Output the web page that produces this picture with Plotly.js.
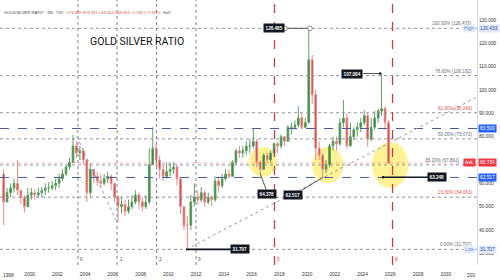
<!DOCTYPE html>
<html><head><meta charset="utf-8">
<script src="https://cdn.plot.ly/plotly-3.0.1.min.js"></script>
<style>html,body{margin:0;padding:0;background:#fff;}#chart{width:500px;height:280px;}</style>
</head><body><div id="chart"></div>
<script>
// Quarterly candles (open = previous close)
const startYear = 1998;
const firstOpen = 64;
const closes = [
  52,56,58,60,  57,54,50,55,  56,55,56,57,  58,58,59,60,
  62,64,67,69,  76,73,74,70,  56,66,63,61,  60,62,63,60,
  54,50,51,48,  50,52,55,52,  50,52,68,75,  70,66,63,65,
  66,67,62,50,  42,42,52,54,  53,56,52,54,  53,61,59,62,
  64,63,69,74,  73,74,76,76,  78,69,66,72,  70,73,77,76,
  80,78,84,84,  85,88,84,86,  113,98,75,72, 66,68,76,78,
  77,86,88,76,  80,83,84,86,  89,79,84,88,  91,92,86,68.66
];
const highs = [
  66,58,60,62,  70,57,55,58,  58,57.5,58,58.5, 60,60.5,61,62,
  64,66,68,71,  80.7,78,76,75, 70,68,66,65,  64,64,65,64,
  59,55,54,53,  53,55,57,56,  54,55,75,84,  78,72,68,69,
  69,69,68,62,  50,46,55,60,  57,58.4,57,56, 55,63,63,64,
  66,66,70,75,  76,76,78,79,  83.7,79,70,73, 73,74,77.5,78,
  81,80,85,86,  87,93,90,88,  126.4,115,100,78, 73,70,77,80,
  80,88,95.7,90, 86,84,86,88, 91.4,90,88,91, 92,107.1,93,87
];
const lows = [
  42,52,54,56,  55,51,47.5,50, 53,53,54,54,  55,56,57,57,
  58,61,63,66,  70,71,70,68,  52,54,60,59,  58,59,60,57,
  52,43.5,47,46, 47,49,51,49, 48,49,51,68,  67,62,61,62,
  63,64,59,47,  40,31.7,40,50, 51,52,50,51,  50,52,56,58,
  61,62,63,68,  71,71,72,73,  75,67,64.4,66, 68.6,69,72,73,
  75,76,78,81,  83,84,83,84,  86,94,70,70,  62.5,64.5,67,74,
  74,76,84,75,  76,78.5,80,82, 85,75.6,78,83, 86,89,83,68.66
];
// Fibonacci retracement levels
const fibPct = ['100.00%','78.60%','61.80%','50.00%','38.20%','23.60%','0.00%'];
const fibVal = [126.433,106.162,90.248,79.070,67.892,54.063,31.707];
const fibCol = ['#6b6e78','#6b6e78','#d9534f','#6b6e78','#6b6e78','#d9534f','#6b6e78'];
// Fibonacci time zones
const tzLabels = ['0','1','2','3','5','8'];
const tzYears = [2003.48,2006.30,2009.14,2011.99,2017.65,2026.16];
// Axis ticks (70 is hidden under the Ask tag in the reference)
const yTicks = [30,40,50,60,80,90,100,110,120,130];
const xYears = [2000,2002,2004,2006,2008,2010,2012,2014,2016,2018,2020,2022,2024,2026,2028,2030];

function yr(d){const y=Math.floor(d);const a=Date.UTC(y,0,1),b=Date.UTC(y+1,0,1);
  return new Date(a+(d-y)*(b-a)).toISOString().slice(0,19).replace('T',' ');}
const pad=n=>(n<10?'0':'')+n;
const dates=closes.map((c,i)=>`${startYear+Math.floor(i/4)}-${pad(3*(i%4)+2)}-15`);
const opens=closes.map((c,i)=>i===0?firstOpen:closes[i-1]);

const FONT='Liberation Sans, Arial, sans-serif';
const trace={type:'candlestick',x:dates,open:opens,high:highs,low:lows,close:closes,
  increasing:{line:{color:'#5e9f62',width:1},fillcolor:'#2e7d32'},
  decreasing:{line:{color:'#e88a8a',width:1},fillcolor:'#d32f2f'},
  whiskerwidth:0,hoverinfo:'none',showlegend:false};

const shapes=[], ann=[];
// yellow circles
[[2015.81,2017.83,62.7,75.6],[2020.37,2022.61,60.1,75.6],[2024.69,2027.29,58.0,77.7]].forEach(c=>{
  shapes.push({type:'circle',xref:'x',yref:'y',x0:yr(c[0]),x1:yr(c[1]),y0:c[2],y1:c[3],
    fillcolor:'rgba(255,232,60,0.55)',line:{width:0},layer:'below'});
});
// fib retracement lines + labels
fibVal.forEach((v,i)=>{
  shapes.push({type:'line',xref:'paper',yref:'y',x0:0,x1:1,y0:v,y1:v,line:{color:'#8f929b',width:1,dash:'dot'}});
  const right = (i===4) ? 461 : 474;
  ann.push({xref:'paper',yref:'y',x:right/477,y:v,xanchor:'right',yanchor:'bottom',yshift:0,showarrow:false,
    text:`${fibPct[i]} (${v.toFixed(3)})`,font:{size:4.6,color:fibCol[i],family:FONT}});
});
// blue dashed levels
[83.5,62.517].forEach(v=>shapes.push({type:'line',xref:'paper',yref:'y',x0:0,x1:1,y0:v,y1:v,
  line:{color:'#4a5d9a',width:1,dash:'dash'}}));
// current price line
shapes.push({type:'line',xref:'paper',yref:'y',x0:0,x1:1,y0:68.734,y1:68.734,line:{color:'rgba(242,54,69,0.35)',width:1,dash:'dot'}});
// fib time zones
tzYears.forEach((t,i)=>{
  const red=i>=4;
  shapes.push({type:'line',xref:'x',yref:'paper',x0:yr(t),x1:yr(t),y0:0,y1:1,
    line:{color:red?'#b8434a':'#7d8089',width:red?1.3:1,dash:red?'dash':'dot'}});
  ann.push({xref:'x',yref:'paper',x:yr(t),y:0,xanchor:'left',yanchor:'bottom',xshift:0.5,yshift:1,showarrow:false,
    text:tzLabels[i],font:{size:4.6,color:red?'#c0392b':'#444',family:FONT}});
});
// trend lines
shapes.push({type:'line',xref:'x',yref:'y',x0:yr(2011.3),y0:31.707,x1:yr(2032.25),y1:97,line:{color:'#9aa0a8',width:1,dash:'dot'}});
shapes.push({type:'line',xref:'x',yref:'y',x0:yr(2003.4),y0:80,x1:yr(2006.3),y1:43.3,line:{color:'#9aa0a8',width:1,dash:'dot'}});
// callout connectors
const blk='#131722';
shapes.push({type:'line',xref:'x',yref:'y',x0:yr(2018.41),y0:126.43,x1:yr(2020.21),y1:126.43,line:{color:'#555',width:1}});
shapes.push({type:'line',xref:'x',yref:'y',x0:yr(2024.03),y0:107.08,x1:yr(2025.27),y1:107.08,line:{color:'#555',width:1}});
shapes.push({type:'line',xref:'x',yref:'y',x0:yr(2016.6),y0:64.38,x1:yr(2017.04),y1:57.5,line:{color:'#555',width:1}});
shapes.push({type:'line',xref:'x',yref:'y',x0:yr(2019.63),y0:57.1,x1:yr(2021.15),y1:62.6,line:{color:'#555',width:1}});
shapes.push({type:'line',xref:'x',yref:'y',x0:yr(2011.27),y0:31.707,x1:yr(2014.6),y1:31.707,line:{color:blk,width:1.6}});
shapes.push({type:'line',xref:'x',yref:'y',x0:yr(2025.47),y0:62.6,x1:yr(2028.75),y1:62.6,line:{color:blk,width:1.6}});
[[2018.41,126.43],[2020.21,126.43]].forEach(p=>shapes.push({type:'circle',xref:'x',yref:'y',xsizemode:'pixel',ysizemode:'pixel',
  xanchor:yr(p[0]),yanchor:p[1],x0:-2.3,x1:2.3,y0:-2.3,y1:2.3,fillcolor:'#fff',line:{color:'#777',width:0.8},layer:'above'}));
[[2025.27,107.08],[2025.47,62.6]].forEach(p=>shapes.push({type:'circle',xref:'x',yref:'y',xsizemode:'pixel',ysizemode:'pixel',
  xanchor:yr(p[0]),yanchor:p[1],x0:-1.2,x1:1.2,y0:-1.2,y1:1.2,fillcolor:blk,line:{width:0}}));
// black callout labels
[['126.485',2017.61,126.5],['107.084',2023.27,106.9],['64.378',2017.11,55.6],['62.517',2018.95,55.0],
 ['31.707',2015.14,31.707],['63.248',2029.33,62.6]].forEach(c=>ann.push({xref:'x',yref:'y',x:yr(c[1]),y:c[2],
  showarrow:false,text:'<b>'+c[0]+'</b>',bgcolor:blk,borderpad:1.6,font:{size:4.6,color:'#fff',family:FONT}}));
// right-side price tags
function tag(v,txt,bg,fc){ann.push({xref:'paper',yref:'y',x:1,y:v,xanchor:'left',xshift:1,showarrow:false,
  text:txt,bgcolor:bg,borderpad:1,font:{size:4.8,color:fc,family:FONT}});}
function pre(v,txt,bg,fc){ann.push({xref:'paper',yref:'y',x:1,y:v,xanchor:'right',xshift:-1,showarrow:false,
  text:txt,bgcolor:bg,borderpad:1,font:{size:4.8,color:fc,family:FONT}});}
tag(126.433,'126.433','#dfe9fb','#2a4d9b'); pre(126.433,'High','#e8eefb','#6d86c4');
tag(83.5,'83.500','#2962ff','#fff');
tag(68.734,'68.734','#f23645','#fff'); pre(68.734,'Ask','#f23645','#fff');
tag(62.517,'62.517','#2962ff','#fff');
tag(31.707,'31.707','#dfe9fb','#2a4d9b'); pre(31.707,'Low','#e8eefb','#6d86c4');
// edge year labels (clipped in the reference)
ann.push({xref:'paper',yref:'paper',x:0,y:0,yanchor:'top',yshift:-6,showarrow:false,xanchor:'left',xshift:0.5,
  text:'1998',font:{size:4.8,color:'#333',family:FONT}});
ann.push({xref:'paper',yref:'paper',x:1,y:0,yanchor:'top',yshift:-6,xanchor:'right',showarrow:false,
  text:'203',font:{size:4.8,color:'#333',family:FONT}});
// title + header
ann.push({xref:'paper',yref:'paper',x:137/477,y:1-42/265,xanchor:'center',yanchor:'middle',showarrow:false,text:'GOLD SILVER RATIO',
  font:{size:10.5,color:'#111',family:'Roboto, Liberation Sans, sans-serif'}});
ann.push({xref:'paper',yref:'paper',x:2/477,y:1-7.5/265,xanchor:'left',showarrow:false,
  text:'GOLD/SILVER RATIO · 1M · TVC  <span style="color:#d9534f">O74.829 H74.821 L68.664 C68.664 −5.935 (−7.96%)</span>  Vol7',
  font:{size:4,color:'#444',family:FONT}});

const layout={width:500,height:280,margin:{l:0,r:23,t:0,b:15},paper_bgcolor:'#fff',plot_bgcolor:'#fff',
  showlegend:false,dragmode:false,
  xaxis:{type:'date',range:[yr(1997.859),yr(2032.25)],tickvals:xYears.map(y=>y+'-01-01'),ticktext:xYears.map(String),
    showgrid:false,zeroline:false,showline:false,ticks:'outside',ticklen:4,tickcolor:'rgba(0,0,0,0)',
    rangeslider:{visible:false},tickfont:{size:4.8,color:'#333',family:FONT},fixedrange:true},
  yaxis:{side:'right',range:[25,138.57],tickvals:yTicks,ticktext:yTicks.map(v=>v.toFixed(3)),
    showgrid:false,zeroline:false,showline:true,linecolor:'#d6d9e0',linewidth:1,ticks:'',
    tickfont:{size:4.8,color:'#333',family:FONT},fixedrange:true},
  shapes:shapes,annotations:ann};
Plotly.newPlot('chart',[trace],layout,{staticPlot:true,displayModeBar:false});
</script></body></html>
